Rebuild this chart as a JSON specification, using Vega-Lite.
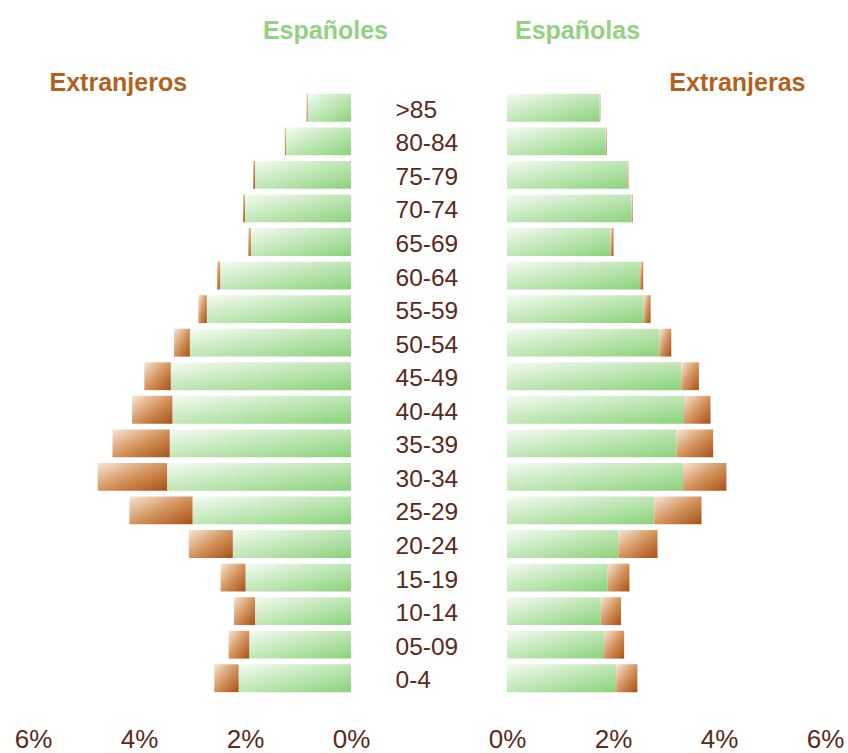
{
  "$schema": "https://vega.github.io/schema/vega-lite/v6.json",
  "background": "white",
  "padding": {"left": 14, "top": 19, "right": 0, "bottom": 0},
  "config": {"view": {"stroke": null}, "font": "Liberation Sans"},
  "data": {"values": [
    {"edad": ">85", "sexo": "H", "esp": 0.82, "ext": 0.02},
    {"edad": "80-84", "sexo": "H", "esp": 1.23, "ext": 0.02},
    {"edad": "75-79", "sexo": "H", "esp": 1.81, "ext": 0.04},
    {"edad": "70-74", "sexo": "H", "esp": 2.0, "ext": 0.04},
    {"edad": "65-69", "sexo": "H", "esp": 1.89, "ext": 0.05},
    {"edad": "60-64", "sexo": "H", "esp": 2.47, "ext": 0.06},
    {"edad": "55-59", "sexo": "H", "esp": 2.72, "ext": 0.16},
    {"edad": "50-54", "sexo": "H", "esp": 3.04, "ext": 0.3},
    {"edad": "45-49", "sexo": "H", "esp": 3.4, "ext": 0.5},
    {"edad": "40-44", "sexo": "H", "esp": 3.37, "ext": 0.76},
    {"edad": "35-39", "sexo": "H", "esp": 3.42, "ext": 1.08},
    {"edad": "30-34", "sexo": "H", "esp": 3.47, "ext": 1.31},
    {"edad": "25-29", "sexo": "H", "esp": 2.99, "ext": 1.19},
    {"edad": "20-24", "sexo": "H", "esp": 2.23, "ext": 0.83},
    {"edad": "15-19", "sexo": "H", "esp": 1.99, "ext": 0.47},
    {"edad": "10-14", "sexo": "H", "esp": 1.81, "ext": 0.4},
    {"edad": "05-09", "sexo": "H", "esp": 1.92, "ext": 0.39},
    {"edad": "0-4", "sexo": "H", "esp": 2.12, "ext": 0.46},
    {"edad": ">85", "sexo": "M", "esp": 1.75, "ext": 0.01},
    {"edad": "80-84", "sexo": "M", "esp": 1.86, "ext": 0.02},
    {"edad": "75-79", "sexo": "M", "esp": 2.27, "ext": 0.02},
    {"edad": "70-74", "sexo": "M", "esp": 2.35, "ext": 0.02},
    {"edad": "65-69", "sexo": "M", "esp": 1.95, "ext": 0.06},
    {"edad": "60-64", "sexo": "M", "esp": 2.51, "ext": 0.06},
    {"edad": "55-59", "sexo": "M", "esp": 2.58, "ext": 0.13},
    {"edad": "50-54", "sexo": "M", "esp": 2.88, "ext": 0.22},
    {"edad": "45-49", "sexo": "M", "esp": 3.29, "ext": 0.33},
    {"edad": "40-44", "sexo": "M", "esp": 3.34, "ext": 0.5},
    {"edad": "35-39", "sexo": "M", "esp": 3.2, "ext": 0.69},
    {"edad": "30-34", "sexo": "M", "esp": 3.32, "ext": 0.82},
    {"edad": "25-29", "sexo": "M", "esp": 2.78, "ext": 0.89},
    {"edad": "20-24", "sexo": "M", "esp": 2.1, "ext": 0.74},
    {"edad": "15-19", "sexo": "M", "esp": 1.9, "ext": 0.41},
    {"edad": "10-14", "sexo": "M", "esp": 1.77, "ext": 0.38},
    {"edad": "05-09", "sexo": "M", "esp": 1.83, "ext": 0.38},
    {"edad": "0-4", "sexo": "M", "esp": 2.06, "ext": 0.4}
  ]},
  "transform": [
    {"fold": ["esp", "ext"], "as": ["grupo", "valor"]},
    {"stack": "valor", "groupby": ["edad", "sexo"], "sort": [{"field": "grupo", "order": "ascending"}], "as": ["v0", "v1"]}
  ],
  "spacing": 156,
  "bounds": "flush",
  "hconcat": [
    {
      "width": 318,
      "height": 604,
      "title": {"text": "Españoles", "anchor": "end", "frame": "group", "dx": 37, "fontSize": 25, "fontWeight": "bold", "color": "#92d282", "baseline": "alphabetic", "offset": 6},
      "transform": [{"filter": "datum.sexo === 'H'"}],
      "encoding": {
        "x": {"field": "v0", "type": "quantitative", "scale": {"domain": [0, 6], "reverse": true, "nice": false, "zero": true},
          "axis": {"values": [0, 2, 4, 6], "labelExpr": "datum.value + '%'", "labelFontSize": 26, "labelColor": "#5a2a1c", "domain": false, "ticks": false, "grid": false, "title": null, "labelPadding": 31, "labelFlush": false, "labelOverlap": false, "labelBound": false}},
        "x2": {"field": "v1"},
        "y": {"field": "edad", "type": "ordinal", "sort": [">85", "80-84", "75-79", "70-74", "65-69", "60-64", "55-59", "50-54", "45-49", "40-44", "35-39", "30-34", "25-29", "20-24", "15-19", "10-14", "05-09", "0-4"],
          "scale": {"paddingInner": 0.17, "paddingOuter": 0.085},
          "axis": {"labels": false, "ticks": false, "domain": false, "title": "Extranjeros", "titleAngle": 0, "titleAlign": "left", "titleBaseline": "alphabetic", "titleX": 16, "titleY": -1, "titleFontSize": 25, "titleFontWeight": "bold", "titleColor": "#b2621f"}}
      },
      "layer": [
        {"transform": [{"filter": "datum.grupo === 'esp'"}],
         "mark": {"type": "bar", "color": {"gradient": "linear", "x1": 0, "y1": 0, "x2": 1, "y2": 1, "stops": [{"offset": 0, "color": "#f4fbf2"}, {"offset": 1, "color": "#8cd27b"}]}}},
        {"transform": [{"filter": "datum.grupo === 'ext'"}],
         "mark": {"type": "bar", "color": {"gradient": "linear", "x1": 0, "y1": 0, "x2": 1, "y2": 1, "stops": [{"offset": 0, "color": "#f7e6d6"}, {"offset": 0.5, "color": "#d4945e"}, {"offset": 1, "color": "#a85015"}]}}}
      ]
    },
    {
      "width": 318,
      "height": 604,
      "title": {"text": "Españolas", "anchor": "start", "frame": "group", "dx": 8, "fontSize": 25, "fontWeight": "bold", "color": "#92d282", "baseline": "alphabetic", "offset": 6},
      "transform": [{"filter": "datum.sexo === 'M'"}],
      "encoding": {
        "x": {"field": "v0", "type": "quantitative", "scale": {"domain": [0, 6], "nice": false, "zero": true},
          "axis": {"values": [0, 2, 4, 6], "labelExpr": "datum.value + '%'", "labelFontSize": 26, "labelColor": "#5a2a1c", "domain": false, "ticks": false, "grid": false, "title": null, "labelPadding": 31, "labelFlush": false, "labelOverlap": false, "labelBound": false}},
        "x2": {"field": "v1"},
        "y": {"field": "edad", "type": "ordinal", "sort": [">85", "80-84", "75-79", "70-74", "65-69", "60-64", "55-59", "50-54", "45-49", "40-44", "35-39", "30-34", "25-29", "20-24", "15-19", "10-14", "05-09", "0-4"],
          "scale": {"paddingInner": 0.17, "paddingOuter": 0.085},
          "axis": {"labels": true, "labelAlign": "left", "labelPadding": 112, "labelOffset": 3, "labelFontSize": 24.5, "labelColor": "#5a2a1c", "ticks": false, "domain": false, "title": "Extranjeras", "titleAngle": 0, "titleAlign": "right", "titleBaseline": "alphabetic", "titleX": 298, "titleY": -1, "titleFontSize": 25, "titleFontWeight": "bold", "titleColor": "#b2621f"}}
      },
      "layer": [
        {"transform": [{"filter": "datum.grupo === 'esp'"}],
         "mark": {"type": "bar", "color": {"gradient": "linear", "x1": 0, "y1": 0, "x2": 1, "y2": 1, "stops": [{"offset": 0, "color": "#f4fbf2"}, {"offset": 1, "color": "#8cd27b"}]}}},
        {"transform": [{"filter": "datum.grupo === 'ext'"}],
         "mark": {"type": "bar", "color": {"gradient": "linear", "x1": 0, "y1": 0, "x2": 1, "y2": 1, "stops": [{"offset": 0, "color": "#f7e6d6"}, {"offset": 0.5, "color": "#d4945e"}, {"offset": 1, "color": "#a85015"}]}}}
      ]
    }
  ]
}
